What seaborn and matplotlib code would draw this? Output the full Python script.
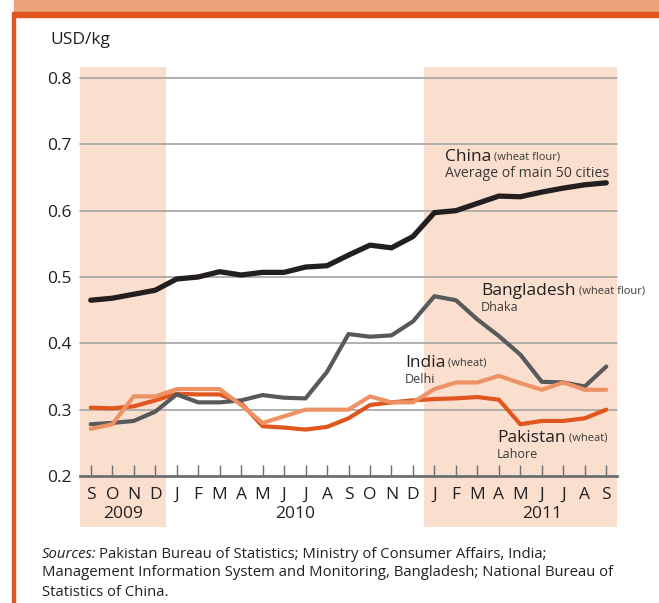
import numpy as np
import pandas as pd
import matplotlib.pyplot as plt
import seaborn as sns
from matplotlib.patches import Rectangle

# =====================================================
# DATA (USD/kg, monthly, Sep 2009 - Sep 2011)
# =====================================================
months = ['S', 'O', 'N', 'D',
          'J', 'F', 'M', 'A', 'M', 'J', 'J', 'A', 'S', 'O', 'N', 'D',
          'J', 'F', 'M', 'A', 'M', 'J', 'J', 'A', 'S']
years = ['2009', '2010', '2011']
year_pos = [1.5, 9.5, 21]
shade_spans = [(-0.5, 3.5), (15.5, 24.5)]

china = [0.465, 0.468, 0.474, 0.480, 0.497, 0.500, 0.508, 0.503, 0.507, 0.507,
         0.515, 0.517, 0.533, 0.548, 0.544, 0.561, 0.597, 0.600, 0.611, 0.622,
         0.621, 0.628, 0.634, 0.639, 0.642]
bangladesh = [0.278, 0.280, 0.283, 0.297, 0.323, 0.311, 0.311, 0.314, 0.322, 0.318,
              0.317, 0.357, 0.414, 0.410, 0.412, 0.433, 0.471, 0.465, 0.436, 0.411,
              0.383, 0.342, 0.341, 0.335, 0.365]
india = [0.271, 0.278, 0.320, 0.320, 0.331, 0.331, 0.331, 0.307, 0.280, 0.290,
         0.300, 0.300, 0.300, 0.320, 0.311, 0.311, 0.331, 0.341, 0.341, 0.351,
         0.340, 0.330, 0.341, 0.330, 0.330]
pakistan = [0.303, 0.302, 0.305, 0.314, 0.324, 0.323, 0.323, 0.310, 0.275, 0.273,
            0.270, 0.274, 0.287, 0.307, 0.311, 0.314, 0.316, 0.317, 0.319, 0.315,
            0.278, 0.283, 0.283, 0.287, 0.300]

yticks = [0.2, 0.3, 0.4, 0.5, 0.6, 0.7, 0.8]

labels = [
    # name, detail, city, x, y, city font size
    ('China', '(wheat flour)', 'Average of main 50 cities', 16.5, 0.681, 10.2),
    ('Bangladesh', '(wheat flour)', 'Dhaka', 18.17, 0.479, 9),
    ('India', '(wheat)', 'Delhi', 14.63, 0.371, 9),
    ('Pakistan', '(wheat)', 'Lahore', 18.92, 0.258, 9),
]

# =====================================================
# STYLE
# =====================================================
sns.set_theme(style='white')
plt.rcParams['font.family'] = ['Open Sans', 'DejaVu Sans']

TEXT = '#231F20'
SUB = '#3A3A3A'
DARK_ORANGE = '#E0561E'
SALMON = '#EDA27B'
SHADE = '#FADFCF'
GRID = '#A3A3A3'
AXIS = '#6D6E70'

colors = {'China': '#231F20', 'Bangladesh': '#58595B',
          'India': '#EE9266', 'Pakistan': '#E0561E'}
widths = {'China': 3.8, 'Bangladesh': 3.0, 'India': 3.0, 'Pakistan': 3.0}

df = pd.DataFrame({'idx': np.arange(len(months)), 'China': china,
                   'Bangladesh': bangladesh, 'India': india, 'Pakistan': pakistan})

fig = plt.figure(figsize=(6.59, 6.03), dpi=100)

# frame decoration (top band + orange border)
fig.patches.append(Rectangle((14 / 659, 1 - 12 / 603), 1, 12 / 603,
                             transform=fig.transFigure, color=SALMON, zorder=0))
fig.patches.append(Rectangle((14 / 659, 1 - 17 / 603), 1, 5 / 603,
                             transform=fig.transFigure, color=DARK_ORANGE, zorder=0))
fig.patches.append(Rectangle((12 / 659, 0), 3 / 659, 1 - 12 / 603,
                             transform=fig.transFigure, color=DARK_ORANGE, zorder=0))

ax = fig.add_axes([80 / 659, 127 / 603, 537 / 659, 398 / 603])
ax.set_xlim(-0.5, 24.5)
ax.set_ylim(0.2, 0.8)

for x0, x1 in shade_spans:
    ax.axvspan(x0, x1, ymin=-0.128, ymax=1.028, color=SHADE, lw=0,
               zorder=0, clip_on=False)

for y in yticks[1:]:
    ax.axhline(y, color=GRID, lw=1.2, zorder=1, clip_on=False)

for name in ['Pakistan', 'Bangladesh', 'India', 'China']:
    sns.lineplot(data=df, x='idx', y=name, ax=ax, color=colors[name],
                 lw=widths[name], zorder=3, clip_on=False,
                 solid_joinstyle='round', solid_capstyle='round')

for s in ['top', 'right', 'left']:
    ax.spines[s].set_visible(False)
ax.spines['bottom'].set_color(AXIS)
ax.spines['bottom'].set_linewidth(2)
ax.spines['bottom'].set_zorder(2)

ax.set_xticks(range(len(months)))
ax.set_xticklabels(months)
ax.set_yticks(yticks)
ax.set_yticklabels([f'{v:.1f}' for v in yticks])
ax.tick_params(axis='x', direction='in', length=8, width=1, color=AXIS,
               pad=8, labelsize=12.5, labelcolor=TEXT, bottom=True)
ax.tick_params(axis='y', length=0, pad=6, labelsize=12.5, labelcolor=TEXT)
ax.set_xlabel('')
ax.set_ylabel('')
ax.patch.set_alpha(0)

for yr, xp in zip(years, year_pos):
    ax.text(xp, -0.0955, yr, transform=ax.get_xaxis_transform(),
            ha='center', va='center', fontsize=12.5, color=TEXT)

# series labels
for name, detail, city, x, y, cfs in labels:
    t = ax.text(x, y, name, fontsize=12.5, color=TEXT, ha='left',
                va='center', zorder=4)
    ax.annotate(' ' + detail, xy=(1, 0), xycoords=t, xytext=(0, 1.5),
                textcoords='offset points', fontsize=8, color=SUB,
                va='bottom', ha='left')
    ax.text(x, y - 0.025, city, fontsize=cfs, color=SUB, ha='left',
            va='center', zorder=4)

fig.text(50 / 659, 1 - 40 / 603, 'USD/kg', fontsize=12.5, color=TEXT,
         ha='left', va='center')

# sources
fs = 10.7
line1 = fig.text(42 / 659, 1 - 554 / 603, 'Sources:', fontsize=fs,
                 style='italic', color=TEXT, ha='left', va='center')
fig.canvas.draw()
bb = line1.get_window_extent()
fig.text(bb.x1 / 659 + 2 / 659, 1 - 554 / 603,
         'Pakistan Bureau of Statistics; Ministry of Consumer Affairs, India;',
         fontsize=fs, color=TEXT, ha='left', va='center')
fig.text(42 / 659, 1 - 573 / 603,
         'Management Information System and Monitoring, Bangladesh; National Bureau of',
         fontsize=fs, color=TEXT, ha='left', va='center')
fig.text(42 / 659, 1 - 593 / 603, 'Statistics of China.',
         fontsize=fs, color=TEXT, ha='left', va='center')

fig.savefig('out.png', dpi=100)
